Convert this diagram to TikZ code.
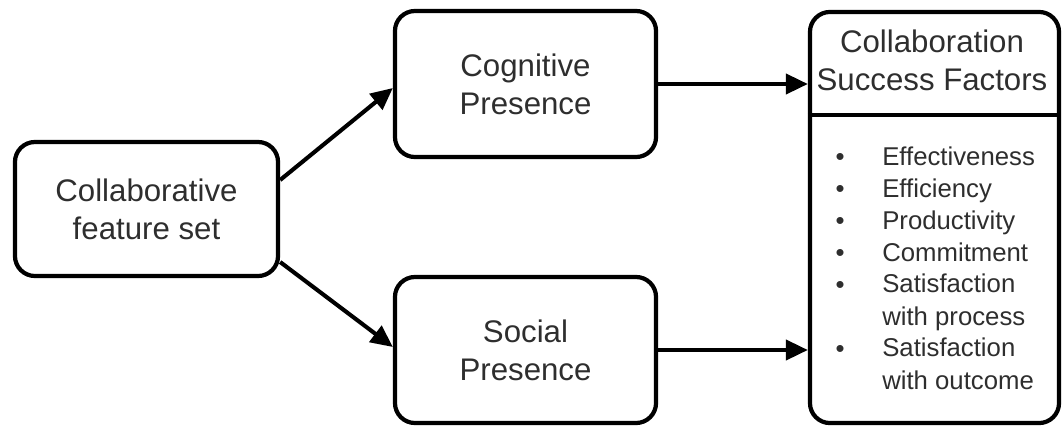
\documentclass[tikz,border=0pt]{standalone}
\usepackage{fontspec}
\setmainfont{Liberation Sans}
\usepackage{tikz}
\usetikzlibrary{calc}
\usetikzlibrary{arrows.meta}

\definecolor{textgray}{HTML}{2E2E2E}
\tikzset{
  block/.style={draw=black, line width=3pt, rounded corners=0.5cm, align=center,
    text=textgray, font=\fontsize{22.2}{27}\selectfont},
  flow/.style={line width=2.9pt, -{Triangle[length=0.55cm,width=0.5cm]}},
  listitem/.style={inner sep=0pt, anchor=base west, align=left, text=textgray,
    font=\fontsize{18.3}{22.8}\selectfont},
  listdot/.style={inner sep=0pt, anchor=base, text=textgray,
    font=\fontsize{18.3}{22.8}\selectfont},
}

\begin{document}
\begin{tikzpicture}[x=0.025cm,y=-0.025cm]
        \useasboundingbox (0,0) rectangle (1063,428);

        % blocks
        \node[block, minimum width=6.575cm, minimum height=3.35cm] (fs) at (146.5,209) {Collaborative\\feature set};
        \node[block, minimum width=6.525cm, minimum height=3.65cm] (cog) at (525.5,84) {Cognitive\\Presence};
        \node[block, minimum width=6.525cm, minimum height=3.65cm] (soc) at (525.5,350) {Social\\Presence};
        \node[block, minimum width=6.225cm, minimum height=10.275cm] (csf) at (934.5,217.5) {};
        \node[block, draw=none, inner sep=0pt] (hdr) at (932,60) {Collaboration\\Success Factors};
        \draw[line width=3pt] (csf.west |- 0,115) -- (csf.east |- 0,115);

        % arrows
        \draw[flow] ($(fs.east)+(0,-29)$) -- ($(cog.west)+(0,4)$);
        \draw[flow] ($(fs.east)+(0,53)$) -- ($(soc.west)+(0,-3)$);
        \draw[flow] (cog.east) -- (cog.east -| csf.west);
        \draw[flow] (soc.east) -- (soc.east -| csf.west);

        % list of factors (two-line items sit on their last baseline)
        \node[listdot] (b1) at (840,165) {\textbullet};
        \node[listitem] (e1) at (882,165) {Effectiveness};
        \node[listdot] (b2) at (840,197) {\textbullet};
        \node[listitem] (e2) at (882,197) {Efficiency};
        \node[listdot] (b3) at (840,229) {\textbullet};
        \node[listitem] (e3) at (882,229) {Productivity};
        \node[listdot] (b4) at (840,261) {\textbullet};
        \node[listitem] (e4) at (882,261) {Commitment};
        \node[listdot] (b5) at (840,293) {\textbullet};
        \node[listitem] (e5) at (882,325) {Satisfaction\\with process};
        \node[listdot] (b6) at (840,357) {\textbullet};
        \node[listitem] (e6) at (882,389) {Satisfaction\\with outcome};
\end{tikzpicture}
\end{document}
